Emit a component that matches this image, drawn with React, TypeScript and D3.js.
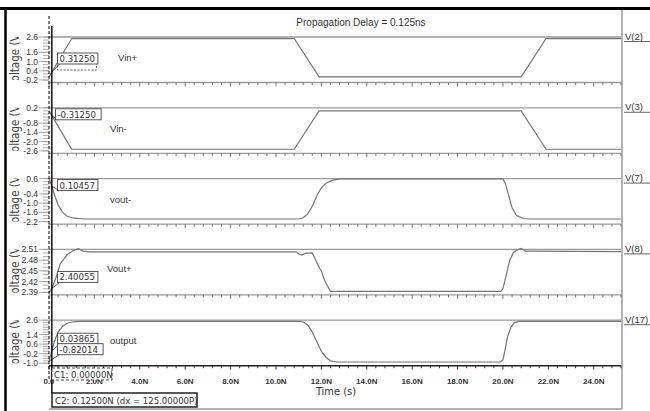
import React from 'react';
import * as d3 from 'd3';

const W = 650;
const H = 411;

// time axis, in ns
const timeTicks = [0, 2, 4, 6, 8, 10, 12, 14, 16, 18, 20, 22, 24];
const timeLabels = ['0.0', '2.0N', '4.0N', '6.0N', '8.0N', '10.0N', '12.0N', '14.0N', '16.0N', '18.0N', '20.0N', '22.0N', '24.0N'];

const nodeNames = ['V(2)', 'V(3)', 'V(7)', 'V(8)', 'V(17)'];
const signalNames = ['Vin+', 'Vin-', 'vout-', 'Vout+', 'output'];
const yDomains: [number, number][] = [[-0.2, 2.6], [-2.6, 0.2], [-2.2, 0.6], [2.39, 2.51], [-1.0, 2.6]];
const yTickValues = [
  [2.6, 1.6, 1.0, 0.4, -0.2],
  [0.2, -0.8, -1.4, -2.0, -2.6],
  [0.6, -0.4, -1.0, -1.6, -2.2],
  [2.51, 2.48, 2.45, 2.42, 2.39],
  [2.6, 1.4, 0.6, -0.2, -1.0],
];
const yMinorStep = [0.2, 0.2, 0.2, 0.01, 0.2];

// traces: [time ns, volts]
const vinPlus: [number, number][] = [[0, 0], [1, 2.5], [10.8, 2.5], [11.9, 0], [20.8, 0], [21.9, 2.5], [25.2, 2.5]];
const vinMinus: [number, number][] = [[0, 0], [1, -2.5], [10.8, -2.5], [11.9, 0], [20.8, 0], [21.9, -2.5], [25.2, -2.5]];
const voutMinus: [number, number][] = [
  [0, 0.6], [0.125, 0.105], [0.25, -0.5], [0.4, -1.1], [0.6, -1.6], [0.8, -1.85], [1.1, -1.98], [1.6, -2.03],
  [11.0, -2.03], [11.2, -1.95], [11.4, -1.7], [11.6, -1.2], [11.8, -0.5], [12.0, 0.0], [12.2, 0.3], [12.5, 0.5],
  [12.8, 0.58], [20.0, 0.58], [20.1, 0.3], [20.25, -0.5], [20.4, -1.3], [20.6, -1.8], [20.9, -2.0], [21.2, -2.03],
  [25.2, -2.03],
];
const voutPlus: [number, number][] = [
  [0, 2.39], [0.125, 2.4006], [0.3, 2.43], [0.5, 2.47], [0.8, 2.495], [1.1, 2.508], [1.3, 2.512], [1.5, 2.505],
  [1.8, 2.503], [10.9, 2.503], [11.0, 2.497], [11.15, 2.494], [11.3, 2.499], [11.6, 2.5], [11.75, 2.48],
  [11.9, 2.46], [12.0, 2.45], [12.1, 2.43], [12.25, 2.41], [12.4, 2.393], [19.9, 2.393], [20.0, 2.4],
  [20.15, 2.44], [20.3, 2.48], [20.45, 2.5], [20.6, 2.508], [20.8, 2.513], [21.0, 2.505], [25.2, 2.504],
];
const output: [number, number][] = [
  [0, -0.82], [0.125, 0.039], [0.25, 0.9], [0.4, 1.6], [0.6, 2.1], [0.8, 2.35], [1.0, 2.45], [1.3, 2.5],
  [11.0, 2.5], [11.2, 2.45], [11.4, 2.2], [11.6, 1.6], [11.8, 0.8], [12.0, 0.0], [12.2, -0.5], [12.4, -0.8],
  [12.7, -0.9], [19.9, -0.9], [20.0, -0.7], [20.1, 0.2], [20.2, 1.2], [20.35, 2.0], [20.5, 2.4], [20.7, 2.5],
  [25.2, 2.5],
];
const traces = [vinPlus, vinMinus, voutMinus, voutPlus, output];

// cursor readouts (C2 value first, then C1 where shown)
const cursorValues = [['0.31250'], ['-0.31250'], ['0.10457'], ['2.40055'], ['0.03865', '-0.82014']];
const cursor1 = 0;
const cursor2 = 0.125;

const FONT = '"Liberation Sans Narrow", "Liberation Sans", Arial, sans-serif';
const COND = '"DejaVu Sans Condensed", "DejaVu Sans", sans-serif';
const INK = '#333';
const GRID = '#9a9a9a';
const TRACE = '#757575';

export default function App() {
  const x = d3.scaleLinear().domain([0, 25.2]).range([49, 621]);
  const panelTop = (i: number) => 37 + i * 70.8;
  const axisY = (i: number) => panelTop(i) + 45.5;

  const minorTimes = d3.range(0, 25.21, 0.4);

  return (
    <svg width={W} height={H} style={{ position: 'absolute', left: 0, top: 0, background: '#fff' }} fontFamily={FONT}>
      <rect x={0} y={0} width={W} height={H} fill="#fff" />
      {/* frame */}
      <line x1={0} x2={W} y1={8.5} y2={8.5} stroke="#000" strokeWidth={3} />
      <line x1={5.5} x2={5.5} y1={8} y2={H} stroke="#000" strokeWidth={2.5} />
      <line x1={622} x2={622} y1={10} y2={409} stroke={GRID} strokeWidth={1.5} />
      <line x1={49} x2={622} y1={409} y2={409} stroke={GRID} strokeWidth={1.5} />

      <text x={361} y={26} fontSize={10} fill={INK} textAnchor="middle">Propagation Delay = 0.125ns</text>

      {traces.map((data, i) => {
        const top = panelTop(i);
        const ay = axisY(i);
        const y = d3.scaleLinear().domain(yDomains[i]).range([ay - 2.5, top]);
        const line = d3.line<[number, number]>().x(d => x(d[0])).y(d => y(d[1]));
        const [lo, hi] = yDomains[i];
        const step = yMinorStep[i];
        const minors = d3.range(Math.round((hi - lo) / step) + 1).map(k => lo + k * step);
        const clipId = `ylab-${i}`;
        const last = i === traces.length - 1;
        return (
          <g key={i}>
            <clipPath id={clipId}>
              <rect x={6.5} y={top} width={20} height={ay - top - 2.5} />
            </clipPath>
            <g clipPath={`url(#${clipId})`}>
              <text
                transform={`translate(18.5,${top + 22}) rotate(-90)`}
                fontSize={11.5}
                fill="#444"
                textAnchor="middle"
                fontFamily={COND}
              >
                Voltage (V)
              </text>
            </g>
            {/* y ticks */}
            {minors.map((v, k) => (
              <line key={k} x1={43} x2={49} y1={y(v)} y2={y(v)} stroke={GRID} strokeWidth={0.8} />
            ))}
            {yTickValues[i].map((v, k) => (
              <g key={k}>
                <line x1={39} x2={49} y1={y(v)} y2={y(v)} stroke={GRID} strokeWidth={0.8} />
                <text x={38} y={y(v) + 3} fontSize={8.5} fill={INK} textAnchor="end">
                  {i === 3 ? v.toFixed(2) : v.toFixed(1)}
                </text>
              </g>
            ))}
            {/* top border and x axis */}
            <line x1={49} x2={621} y1={top} y2={top} stroke={GRID} strokeWidth={1.3} />
            <line x1={49} x2={621} y1={ay} y2={ay} stroke={last ? '#222' : GRID} strokeWidth={last ? 1.6 : 1.3} />
            {minorTimes.map((t, k) => {
              const major = Math.abs(t / 2 - Math.round(t / 2)) < 1e-6;
              return (
                <line key={k} x1={x(t)} x2={x(t)} y1={ay} y2={ay + (major ? 4 : 2.5)} stroke={last ? '#222' : '#666'} strokeWidth={0.9} />
              );
            })}
            {/* trace */}
            <path d={line(data) ?? ''} fill="none" stroke={TRACE} strokeWidth={1.2} />
            {/* node label */}
            <text x={625} y={top + 2.5} fontSize={9.5} fill={INK}>{nodeNames[i]}</text>
            <line x1={624} x2={650} y1={top + 4.5} y2={top + 4.5} stroke="#555" strokeWidth={0.9} />
            {/* signal name */}
            <text x={i === 0 ? 118 : i === 3 ? 107 : 110} y={top + (i === 3 ? 23 : 24)} fontSize={9.5} fill={INK}>{signalNames[i]}</text>
            {/* cursor readouts */}
            {i === 0 && (
              <rect x={57.5} y={top + 26} width={39} height={7} fill="#fff" stroke="#555" strokeDasharray="2,1.5" strokeWidth={0.9} />
            )}
            {cursorValues[i].map((s, k) => {
              const bx = i === 1 ? 55.5 : 57.5;
              const by = [top + 16, top + 1, top + 1, top + 22, top + 13][i] + k * 10.5;
              const bw = s.length * 5.2 + 4;
              return (
                <g key={k}>
                  <line x1={bx + 2} x2={x(k === 0 ? cursor2 : cursor1)} y1={by + 11} y2={y(parseFloat(s))} stroke="#444" strokeWidth={0.9} />
                  <rect x={bx} y={by} width={bw} height={11} fill="#fff" stroke="#444" strokeWidth={0.9} />
                  <text x={bx + 2} y={by + 9} fontSize={9.5} fill={INK} fontFamily={COND}>{s}</text>
                </g>
              );
            })}
          </g>
        );
      })}

      {/* time tick labels */}
      {timeTicks.map((t, k) => (
        <text key={k} x={x(t)} y={384} fontSize={8} fill={INK} textAnchor="middle" fontWeight="bold">{timeLabels[k]}</text>
      ))}
      <text x={336} y={395} fontSize={11} fill={INK} textAnchor="middle" fontFamily={COND}>Time (s)</text>

      {/* cursors */}
      <line x1={x(cursor1)} x2={x(cursor1)} y1={16} y2={380} stroke="#000" strokeWidth={1} strokeDasharray="3,2" />
      <line x1={x(cursor2)} x2={x(cursor2)} y1={26} y2={393} stroke="#000" strokeWidth={1.4} />
      <rect x={52} y={368} width={60} height={12} fill="#fff" stroke="#333" strokeDasharray="3,2" strokeWidth={0.9} />
      <text x={54} y={377.5} fontSize={9.5} fill={INK} fontFamily={COND}>C1: 0.00000N</text>
      <rect x={52} y={393} width={145} height={14} fill="#fff" stroke="#111" strokeWidth={1.4} />
      <text x={55} y={404} fontSize={9.5} fill={INK} fontFamily={COND}>C2: 0.12500N (dx = 125.00000P)</text>
    </svg>
  );
}
